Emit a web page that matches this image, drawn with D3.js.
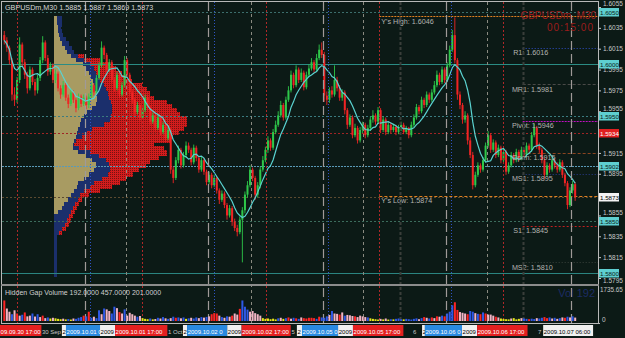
<!DOCTYPE html>
<html>
<head>
<meta charset="utf-8">
<script src="https://cdn.jsdelivr.net/npm/d3@7"></script>
<style>
  html, body { margin: 0; padding: 0; background: #0c1a16; }
  svg { display: block; font-family: "Liberation Sans", Arial, sans-serif; }
</style>
</head>
<body>
<div id="chart"></div>
<script>
// GBPUSDm M30 bars, 2009.09.30 -> 2009.10.07
const opens = [
  1.6028,1.6023,1.6016,1.6004,1.5971,1.5966,1.5985,1.6019,1.6002,1.5990,
  1.5977,1.5995,1.5983,1.5975,1.5987,1.6004,1.6021,1.6006,1.5993,1.5999,
  1.5985,1.5991,1.5977,1.5971,1.5980,1.5968,1.5962,1.5973,1.5966,1.5958,
  1.5969,1.5962,1.5968,1.5961,1.5969,1.5980,1.5973,1.5987,1.5999,1.6016,
  1.6009,1.5995,1.6002,1.5985,1.5977,1.5990,1.5971,1.5980,1.6004,1.5990,
  1.5973,1.5966,1.5954,1.5961,1.5949,1.5956,1.5968,1.5958,1.5945,1.5951,
  1.5939,1.5949,1.5935,1.5942,1.5929,1.5937,1.5899,1.5891,1.5908,1.5918,
  1.5903,1.5913,1.5922,1.5918,1.5906,1.5920,1.5910,1.5899,1.5908,1.5897,
  1.5887,1.5894,1.5884,1.5891,1.5879,1.5870,1.5876,1.5865,1.5855,1.5862,
  1.5849,1.5843,1.5839,1.5851,1.5860,1.5875,1.5884,1.5899,1.5891,1.5875,
  1.5884,1.5899,1.5908,1.5918,1.5927,1.5920,1.5935,1.5942,1.5951,1.5961,
  1.5949,1.5966,1.5975,1.5990,1.5980,1.5995,1.5985,1.5992,1.5978,1.5990,
  1.5996,1.6002,1.5995,1.6006,1.6014,1.6009,1.5970,1.5966,1.5975,1.5971,
  1.5985,1.5977,1.5968,1.5973,1.5956,1.5942,1.5949,1.5932,1.5939,1.5927,
  1.5937,1.5942,1.5932,1.5939,1.5947,1.5951,1.5945,1.5956,1.5937,1.5947,
  1.5935,1.5942,1.5937,1.5940,1.5935,1.5939,1.5942,1.5935,1.5939,1.5932,
  1.5942,1.5949,1.5959,1.5955,1.5966,1.5961,1.5971,1.5966,1.5973,1.5980,
  1.5990,1.5983,1.5995,1.5985,1.5999,1.6014,1.6028,1.6004,1.5971,1.5961,
  1.5947,1.5951,1.5927,1.5913,1.5884,1.5894,1.5903,1.5899,1.5908,1.5922,
  1.5932,1.5918,1.5925,1.5913,1.5920,1.5908,1.5916,1.5897,1.5903,1.5913,
  1.5908,1.5916,1.5910,1.5918,1.5913,1.5922,1.5918,1.5932,1.5939,1.5922,
  1.5918,1.5908,1.5894,1.5903,1.5899,1.5908,1.5903,1.5899,1.5906,1.5894,
  1.5886,1.5865,1.5879,1.5885
];
const highs = [
  1.6032,1.6026,1.6018,1.6006,1.5978,1.5988,1.6026,1.6021,1.6005,1.5993,
  1.5998,1.5997,1.5986,1.5990,1.6007,1.6027,1.6023,1.6009,1.6002,1.6001,
  1.5995,1.5993,1.5980,1.5984,1.5982,1.5971,1.5976,1.5975,1.5968,1.5972,
  1.5971,1.5971,1.5970,1.5972,1.5983,1.5982,1.5990,1.6002,1.6022,1.6018,
  1.6011,1.6005,1.6004,1.5988,1.5993,1.5992,1.5983,1.6008,1.6006,1.5992,
  1.5976,1.5968,1.5964,1.5963,1.5959,1.5971,1.5970,1.5960,1.5954,1.5953,
  1.5952,1.5951,1.5945,1.5944,1.5940,1.5939,1.5902,1.5911,1.5922,1.5920,
  1.5916,1.5926,1.5925,1.5920,1.5923,1.5922,1.5912,1.5911,1.5910,1.5899,
  1.5897,1.5896,1.5894,1.5893,1.5881,1.5879,1.5878,1.5867,1.5865,1.5864,
  1.5852,1.5846,1.5854,1.5863,1.5878,1.5888,1.5903,1.5901,1.5893,1.5887,
  1.5902,1.5912,1.5921,1.5931,1.5929,1.5938,1.5946,1.5955,1.5965,1.5963,
  1.5969,1.5979,1.5994,1.5992,1.5999,1.5997,1.5996,1.5994,1.5993,1.6000,
  1.6006,1.6004,1.6010,1.6019,1.6021,1.6012,1.5974,1.5978,1.5979,1.5999,
  1.5988,1.5980,1.5976,1.5975,1.5958,1.5952,1.5951,1.5943,1.5941,1.5940,
  1.5945,1.5944,1.5942,1.5950,1.5956,1.5953,1.5959,1.5958,1.5950,1.5949,
  1.5945,1.5944,1.5943,1.5942,1.5942,1.5945,1.5944,1.5941,1.5940,1.5945,
  1.5952,1.5962,1.5961,1.5969,1.5968,1.5974,1.5973,1.5976,1.5984,1.5994,
  1.5992,1.5998,1.5997,1.6002,1.6018,1.6033,1.6045,1.6006,1.5974,1.5963,
  1.5955,1.5953,1.5930,1.5916,1.5897,1.5906,1.5905,1.5911,1.5925,1.5936,
  1.5934,1.5928,1.5927,1.5923,1.5922,1.5919,1.5918,1.5906,1.5916,1.5915,
  1.5919,1.5918,1.5921,1.5920,1.5925,1.5924,1.5935,1.5943,1.5941,1.5925,
  1.5920,1.5910,1.5906,1.5905,1.5911,1.5910,1.5906,1.5909,1.5908,1.5896,
  1.5888,1.5882,1.5888,1.5887
];
const lows = [
  1.6019,1.6012,1.6000,1.5965,1.5960,1.5963,1.5982,1.5998,1.5986,1.5972,
  1.5975,1.5980,1.5970,1.5972,1.5984,1.6001,1.6003,1.5989,1.5990,1.5982,
  1.5982,1.5974,1.5967,1.5969,1.5965,1.5958,1.5960,1.5963,1.5954,1.5956,
  1.5959,1.5960,1.5957,1.5958,1.5967,1.5970,1.5971,1.5985,1.5997,1.6005,
  1.5992,1.5993,1.5982,1.5974,1.5975,1.5968,1.5969,1.5978,1.5987,1.5970,
  1.5962,1.5951,1.5952,1.5946,1.5947,1.5954,1.5955,1.5942,1.5943,1.5936,
  1.5937,1.5932,1.5933,1.5926,1.5927,1.5895,1.5886,1.5889,1.5905,1.5900,
  1.5901,1.5910,1.5915,1.5903,1.5904,1.5907,1.5896,1.5897,1.5894,1.5884,
  1.5885,1.5881,1.5882,1.5876,1.5866,1.5868,1.5862,1.5851,1.5853,1.5845,
  1.5840,1.5835,1.5837,1.5810,1.5857,1.5872,1.5882,1.5888,1.5870,1.5872,
  1.5881,1.5897,1.5906,1.5915,1.5917,1.5918,1.5933,1.5940,1.5949,1.5946,
  1.5947,1.5964,1.5973,1.5977,1.5978,1.5982,1.5983,1.5975,1.5976,1.5988,
  1.5994,1.5992,1.5993,1.6004,1.6006,1.5964,1.5961,1.5963,1.5968,1.5969,
  1.5974,1.5965,1.5965,1.5952,1.5938,1.5940,1.5929,1.5930,1.5924,1.5925,
  1.5934,1.5929,1.5930,1.5936,1.5944,1.5942,1.5943,1.5934,1.5935,1.5932,
  1.5933,1.5934,1.5935,1.5932,1.5933,1.5936,1.5933,1.5933,1.5929,1.5930,
  1.5940,1.5947,1.5952,1.5953,1.5958,1.5959,1.5963,1.5964,1.5971,1.5978,
  1.5980,1.5981,1.5982,1.5983,1.5997,1.6012,1.6001,1.5966,1.5957,1.5943,
  1.5944,1.5923,1.5910,1.5880,1.5882,1.5892,1.5896,1.5897,1.5906,1.5920,
  1.5915,1.5916,1.5910,1.5911,1.5905,1.5906,1.5894,1.5895,1.5901,1.5905,
  1.5906,1.5907,1.5908,1.5910,1.5911,1.5915,1.5916,1.5930,1.5919,1.5915,
  1.5905,1.5890,1.5892,1.5896,1.5897,1.5900,1.5896,1.5897,1.5891,1.5883,
  1.5861,1.5863,1.5876,1.5869
];
const closes = [
  1.6023,1.6016,1.6004,1.5971,1.5966,1.5985,1.6019,1.6002,1.5990,1.5977,
  1.5995,1.5983,1.5975,1.5987,1.6004,1.6021,1.6006,1.5993,1.5999,1.5985,
  1.5991,1.5977,1.5971,1.5980,1.5968,1.5962,1.5973,1.5966,1.5958,1.5969,
  1.5962,1.5968,1.5961,1.5969,1.5980,1.5973,1.5987,1.5999,1.6016,1.6009,
  1.5995,1.6002,1.5985,1.5977,1.5990,1.5971,1.5980,1.6004,1.5990,1.5973,
  1.5966,1.5954,1.5961,1.5949,1.5956,1.5968,1.5958,1.5945,1.5951,1.5939,
  1.5949,1.5935,1.5942,1.5929,1.5937,1.5899,1.5891,1.5908,1.5918,1.5903,
  1.5913,1.5922,1.5918,1.5906,1.5920,1.5910,1.5899,1.5908,1.5897,1.5887,
  1.5894,1.5884,1.5891,1.5879,1.5870,1.5876,1.5865,1.5855,1.5862,1.5849,
  1.5843,1.5839,1.5851,1.5860,1.5875,1.5884,1.5899,1.5891,1.5875,1.5884,
  1.5899,1.5908,1.5918,1.5927,1.5920,1.5935,1.5942,1.5951,1.5961,1.5949,
  1.5966,1.5975,1.5990,1.5980,1.5995,1.5985,1.5992,1.5978,1.5990,1.5996,
  1.6002,1.5995,1.6006,1.6014,1.6009,1.5970,1.5966,1.5975,1.5971,1.5985,
  1.5977,1.5968,1.5973,1.5956,1.5942,1.5949,1.5932,1.5939,1.5927,1.5937,
  1.5942,1.5932,1.5939,1.5947,1.5951,1.5945,1.5956,1.5937,1.5947,1.5935,
  1.5942,1.5937,1.5940,1.5935,1.5939,1.5942,1.5935,1.5939,1.5932,1.5942,
  1.5949,1.5959,1.5955,1.5966,1.5961,1.5971,1.5966,1.5973,1.5980,1.5990,
  1.5983,1.5995,1.5985,1.5999,1.6014,1.6028,1.6004,1.5971,1.5961,1.5947,
  1.5951,1.5927,1.5913,1.5884,1.5894,1.5903,1.5899,1.5908,1.5922,1.5932,
  1.5918,1.5925,1.5913,1.5920,1.5908,1.5916,1.5897,1.5903,1.5913,1.5908,
  1.5916,1.5910,1.5918,1.5913,1.5922,1.5918,1.5932,1.5939,1.5922,1.5918,
  1.5908,1.5894,1.5903,1.5899,1.5908,1.5903,1.5899,1.5906,1.5894,1.5886,
  1.5865,1.5879,1.5885,1.5873
];

// hidden gap volume pane
const volumes = [
  1150,700,520,380,600,420,300,350,480,260,
  300,420,250,380,220,300,160,200,140,180,
  150,120,100,130,90,110,80,140,120,180,
  220,300,260,520,180,240,160,600,380,700,
  650,560,420,800,720,500,420,650,300,460,
  380,300,240,280,160,120,100,140,90,110,
  180,140,220,150,120,160,240,180,200,150,
  200,120,150,180,140,200,160,220,190,230,
  260,380,440,420,300,220,180,260,240,300,
  420,360,680,1150,800,640,520,560,440,380,
  300,160,120,140,100,130,90,150,180,120,
  160,200,130,180,150,120,200,160,140,180,
  180,160,120,240,200,180,260,340,560,420,
  400,360,480,300,340,320,280,260,220,300,
  260,220,200,150,120,100,80,120,90,140,
  80,100,90,120,140,100,90,120,100,80,
  120,150,100,160,220,180,140,200,160,260,
  240,300,260,420,520,880,1050,620,500,460,
  420,380,560,520,440,400,380,480,420,360,
  360,300,240,200,140,120,100,90,140,160,
  90,120,160,140,120,100,130,110,160,140,
  180,220,160,200,140,180,120,160,200,180,
  240,200,260,192
];
const volKinds = ("rppbprpbrp" + "pbpbprpbyp" + "yyypybypbb" + "brbrbpbbpb" + "ppbbprpbpp" +
  "ppbpyyybyp" + "bpbpbpbrbp" + "bybpbbpbpb" + "prrrpbpbpr" + "pprbbbpppp" +
  "pyyyyyybpy" + "brpbrbprrr" + "rrbrbbbpbp" + "prpbppprpp" + "ppbyyyypyp" +
  "ybybbbybbb" + "bbpbrpbrpr" + "pbrbbbrrpp" + "prbbpbrbrp" + "pprpyyyypy" +
  "yypbbrbbpb" + "brrbpbpbpr" + "bpbp").split("");
const volMax = 1735.65;

// market profile on the left, one row per 4 pips
const profilePrices = [
  1.6044,1.6040,1.6036,1.6032,1.6028,1.6024,1.6020,1.6016,1.6012,1.6008,
  1.6004,1.6000,1.5996,1.5992,1.5988,1.5984,1.5980,1.5976,1.5972,1.5968,
  1.5964,1.5960,1.5956,1.5952,1.5948,1.5944,1.5940,1.5936,1.5932,1.5928,
  1.5924,1.5920,1.5916,1.5912,1.5908,1.5904,1.5900,1.5896,1.5892,1.5888,
  1.5884,1.5880,1.5876,1.5872,1.5868,1.5864,1.5860,1.5856,1.5852,1.5848,
  1.5844,1.5840,1.5836,1.5832,1.5828,1.5824,1.5820,1.5816,1.5812,1.5808,
  1.5804,1.5800
];
const profileTotal = [
  8,8,7,8,9,12,15,18,20,24, 30,36,40,42,44,46,50,52,54,55,
  57,58,58,57,56,50,38,33,28,22, 20,25,36,45,52,55,56,54,48,40,
  36,30,26,24,21,19,17,15,13,11, 8,5,3,3,3,3,3,3,3,3, 3,3
];
const profileBuy = [
  3,3,4,4,5,6,8,11,13,17, 22,29,32,35,37,39,40,40,42,43,
  42,38,33,30,27,26,24,23,22,20, 19,19,24,32,38,42,40,35,30,24,
  23,20,17,14,10,8,4,0,0,0, 0,0,0,0,0,0,0,0,0,0, 0,0
];
const profileSell = [
  0,0,0,0,0,0,0,0,0,30, 46,56,62,68,72,78,88,93,96,100,
  113,118,123,126,133,133,130,125,119,117, 100,110,113,105,96,92,85,79,72,66,
  58,46,35,28,25,23,21,19,17,15, 12,8,0,0,0,0,0,0,0,0, 0,0
];

// price axis
const priceTicks = [1.6055,1.6035,1.6015,1.5995,1.5975,1.5955,1.5935,1.5915,1.5895,1.5875,1.5855,1.5835,1.5815,1.5795];
const boxPrices = [1.6050,1.6000,1.5950,1.5934,1.5902,1.5873,1.5850,1.5800];
const boxKinds  = ["line","line","line","alert","line","bid","line","line"];

// pivot levels
const pivotNames  = ["Y's High","R1","MR1","Pivot","Open","MS1","Y's Low","S1","MS2"];
const pivotValues = [1.6046,1.6016,1.5981,1.5946,1.5915,1.5895,1.5874,1.5845,1.5810];

// vertical markers, as bar positions
const dayStarts   = [32, 80, 125, 173, 222];
const sessionBlue = [34, 82.4, 127, 175];
const sessionGray = [48, 96.9, 140.6, 189];
const sessionRed  = [5.5, 54.3, 102.7, 146.9, 195.3];
const pivotMarks  = [155, 203];

// time row: plain labels and the visible part of each session tag
const timeTexts = [["30 Sep", 15.2], ["1 Oct", 64.5], ["5", 112.7], ["6", 160.2], ["7", 209]];
const dateTags = [
  ["09.09.30 17:00", -1.2, 15.0, "r"],
  ["2", 23, 24.6, "w"], ["2009.10.01 0", 24.6, 37.9, "b"], ["2009", 37.9, 43.75, "w"], ["2009.10.01 17:00", 43.75, 64.2, "r"],
  ["2", 70.3, 71.9, "w"], ["2009.10.02 0", 71.9, 87.6, "b"], ["2009", 87.6, 93.2, "w"], ["2009.10.02 17:00", 93.2, 112.4, "r"],
  ["2", 114.8, 116.8, "w"], ["2009.10.05 0", 116.8, 130.9, "b"], ["2009", 130.9, 136.7, "w"], ["2009.10.05 17:00", 136.7, 156.4, "r"],
  ["2", 163.7, 164.8, "w"], ["2009.10.06 0", 164.8, 179.3, "b"], ["2009", 179.3, 185.2, "w"], ["2009.10.06 17:00", 185.2, 204.9, "r"],
  ["2009.10.07 06:00", 211, 230.5, "w"]
];

const W = 625, H = 338;
const pane = {left: 2, right: 598, top: 2, bottom: 284};
const vpane = {top: 287, bottom: 323};
const bg = "#0c1a16";

let svg = d3.select("#chart").append("svg")
  .attr("width", W).attr("height", H)
  .style("background", bg);

let defs = svg.append("defs");
let redPat = defs.append("pattern").attr("id", "redp").attr("width", 2).attr("height", 2).attr("patternUnits", "userSpaceOnUse");
redPat.append("rect").attr("width", 2).attr("height", 2).attr("fill", "#d21c1c");
redPat.append("rect").attr("width", 1).attr("height", 1).attr("fill", "#741212");
defs.append("clipPath").attr("id", "clipMain").append("rect")
  .attr("x", pane.left).attr("y", pane.top).attr("width", pane.right - pane.left).attr("height", pane.bottom - pane.top);

let x = d3.scaleLinear().domain([0, closes.length]).range([3, 3 + closes.length * 2.56]);
let y = d3.scaleLinear().domain([1.6055, 1.5795]).range([7, 278]);
let vy = d3.scaleLinear().domain([0, volMax]).range([321, 290]);
let px = d3.scaleLinear().domain([0, 140]).range([54, 194]);

let main = svg.append("g").attr("clip-path", "url(#clipMain)");

// profile
let rowH = y(1.5800) - y(1.5804);
function drawProfile(vals, fill) {
  main.append("g").selectAll("rect").data(profilePrices)
    .enter().append("rect")
      .attr("x", px(0))
      .attr("y", function(d) { return Math.round(y(d) - rowH / 2); })
      .attr("width", function(d, i) { return Math.round(px(vals[i]) - px(0)); })
      .attr("height", Math.ceil(rowH) + 1)
      .attr("fill", fill)
      .attr("shape-rendering", "crispEdges");
}
drawProfile(profileSell, "url(#redp)");
drawProfile(profileTotal, "#1b2f6c");
drawProfile(profileBuy, "#a89b62");

// vertical markers
function vlines(list, color, dash, width, g) {
  g.append("g").selectAll("line").data(list).enter().append("line")
    .attr("x1", function(d) { return Math.round(x(d)) + 0.5; })
    .attr("x2", function(d) { return Math.round(x(d)) + 0.5; })
    .attr("y1", pane.top).attr("y2", vpane.bottom)
    .attr("stroke", color).attr("stroke-width", width)
    .attr("stroke-dasharray", dash);
}
let vg = svg.append("g");
vlines(sessionRed, "#b02828", "2,2", 1, vg);
vlines(sessionGray, "#8a8a80", "3,3", 1, vg);
vlines(dayStarts, "#a09a98", "9,4", 1.2, vg);
vlines(sessionBlue, "#2f55c8", "1,2", 1, vg);
vlines(pivotMarks, "#3a3e3a", "3,2", 2, vg);

// full width price lines
let lineStyle = {
  "1.6050": ["#3c6e6c", "2,2"],
  "1.6000": ["#2b8c84", ""],
  "1.5950": ["#3b7c80", "2,2"],
  "1.5934": ["#a02424", "2,2"],
  "1.5902": ["#5a9ab8", "2,1"],
  "1.5873": ["#5c4a30", "2,2"],
  "1.5850": ["#3c6c5c", "2,2"],
  "1.5800": ["#2b8480", ""]
};
main.append("g").selectAll("line").data(boxPrices).enter().append("line")
  .attr("x1", pane.left).attr("x2", pane.right)
  .attr("y1", function(d) { return Math.round(y(d)) + 0.5; })
  .attr("y2", function(d) { return Math.round(y(d)) + 0.5; })
  .attr("stroke", function(d) { return lineStyle[d.toFixed(4)][0]; })
  .attr("stroke-dasharray", function(d) { return lineStyle[d.toFixed(4)][1]; })
  .attr("stroke-width", 1);

// pivot lines
let pivotStyle = [
  ["#e08020", "2,1", 147], ["#3050c8", "1,2", 203], ["#4a4a48", "3,2", 203],
  ["#c010c0", "2,1", 203], ["#8a4420", "3,2", 203], ["#2a3c90", "1,2", 203],
  ["#e08020", "3,2", 147], ["#c02020", "2,2", 203], ["#3a423c", "1,2", 203]
];
let pg = main.append("g");
pivotValues.forEach(function(v, i) {
  let s = pivotStyle[i];
  pg.append("line")
    .attr("x1", x(s[2])).attr("x2", pane.right)
    .attr("y1", Math.round(y(v)) + 0.5).attr("y2", Math.round(y(v)) + 0.5)
    .attr("stroke", s[0]).attr("stroke-dasharray", s[1]);
});

// candles
let bars = main.append("g");
closes.forEach(function(c, i) {
  let o = opens[i];
  let col = c >= o ? "#2ec84a" : "#f02424";
  let cx = x(i) + 1.28;
  bars.append("line")
    .attr("x1", cx).attr("x2", cx)
    .attr("y1", y(highs[i])).attr("y2", y(lows[i]))
    .attr("stroke", col).attr("stroke-width", 0.9);
  let top = y(Math.max(o, c)), bot = y(Math.min(o, c));
  bars.append("rect")
    .attr("x", x(i) + 0.3).attr("width", 2)
    .attr("y", top).attr("height", Math.max(1, bot - top))
    .attr("fill", col);
});

// moving average
let ma = closes.map(function(c, i) { return d3.mean(closes.slice(Math.max(0, i - 7), i + 1)); });
main.append("path")
  .datum(ma)
  .attr("fill", "none")
  .attr("stroke", "#5ad2d0")
  .attr("stroke-width", 1.2)
  .attr("d", d3.line().x(function(d, i) { return x(i) + 1.28; }).y(function(d) { return y(d); }));

// pivot labels
let labelX = [147, 198.5, 198, 198, 198, 198, 147, 198.5, 198];
main.append("g").selectAll("text").data(pivotValues).enter().append("text")
  .attr("x", function(d, i) { return x(labelX[i]) + 2; })
  .attr("y", function(d) { return y(d) + 7.5; })
  .attr("fill", "#b4b4b0").attr("font-size", 7.2)
  .text(function(d, i) { return pivotNames[i] + ": " + d.toFixed(4); });

// header texts
svg.append("text").attr("x", 5).attr("y", 10).attr("fill", "#d8d8d8").attr("font-size", 7.2)
  .text("GBPUSDm,M30  1.5885  1.5887  1.5869  1.5873");
svg.append("text").attr("x", 596).attr("y", 19).attr("text-anchor", "end").attr("fill", "#9c1c1c").attr("font-size", 10)
  .text("GBPUSDm, M30");
svg.append("text").attr("x", 594).attr("y", 31).attr("text-anchor", "end").attr("fill", "#9c1c1c").attr("font-size", 10)
  .attr("letter-spacing", 1).text("00:15:00");

// price axis; labels that would run into a price box move up above it
let axisG = svg.append("g").attr("transform", "translate(" + pane.right + ",0)")
  .call(d3.axisRight(y).tickValues(priceTicks.filter(function(t) {
    return !boxPrices.some(function(b) { return Math.abs(y(b) - y(t)) < 4; });
  })).tickFormat(d3.format(".4f")).tickSize(3).tickPadding(2));
axisG.select(".domain").remove();
axisG.selectAll("line").attr("stroke", "#c8c8c8");
axisG.selectAll("text").attr("fill", "#c8c8c8").attr("font-size", 6.5).attr("font-family", "Liberation Sans, Arial");
axisG.selectAll(".tick text").attr("y", function(d) {
  let shift = 0;
  boxPrices.forEach(function(b) {
    let gap = y(b) - y(d);
    if (gap >= 4 && gap < 8.5) shift = Math.min(shift, gap - 8.5);
  });
  return shift;
});
// the bottom label sits half under the pane border
axisG.selectAll(".tick").filter(function(d) { return d === 1.5795; }).select("text").attr("dy", "0.62em");

let boxColor = {line: ["#5ecfd0", "#0c1a16"], alert: ["#e02020", "#ffffff"], bid: ["#f4f4f4", "#000000"]};
let boxG = svg.append("g");
boxPrices.forEach(function(p, i) {
  let c = boxColor[boxKinds[i]];
  boxG.append("rect").attr("x", pane.right + 1).attr("y", Math.round(y(p)) - 4)
    .attr("width", 20).attr("height", 8.5).attr("fill", c[0]);
  boxG.append("text").attr("x", pane.right + 2).attr("y", Math.round(y(p)) + 2.6)
    .attr("fill", c[1]).attr("font-size", 6.2).text(p.toFixed(4));
});

// volume pane
let volG = svg.append("g");
let volColor = {r: "#ff2424", p: "#f2b4c4", b: "#2e58e6", y: "#e6e61c", w: "#e8e8e8"};
volG.selectAll("rect").data(volumes).enter().append("rect")
  .attr("x", function(d, i) { return x(i) + 0.3; })
  .attr("width", 2)
  .attr("y", function(d) { return vy(d); })
  .attr("height", function(d) { return vy(0) - vy(d); })
  .attr("fill", function(d, i) { return volColor[volKinds[i]]; });
svg.append("text").attr("x", 595).attr("y", 297).attr("text-anchor", "end")
  .attr("fill", "#1c2c64").attr("font-size", 11).text("Vol  192");
svg.append("text").attr("x", 5).attr("y", 295).attr("fill", "#d0d0d0").attr("font-size", 7)
  .text("Hidden Gap Volume 192.0000 457.0000 201.0000");
svg.append("text").attr("x", 600).attr("y", 292).attr("fill", "#c8c8c8").attr("font-size", 6.3).text(volMax.toFixed(2));
svg.append("text").attr("x", 602).attr("y", 322).attr("fill", "#c8c8c8").attr("font-size", 6.5).text("0");

// frame
let frame = svg.append("g").attr("fill", "none").attr("stroke", "#b8b8b8");
frame.append("line").attr("x1", 1.5).attr("x2", 1.5).attr("y1", 1).attr("y2", 324);
frame.append("line").attr("x1", 1).attr("x2", pane.right).attr("y1", 1.5).attr("y2", 1.5);
frame.append("line").attr("x1", pane.right + 0.5).attr("x2", pane.right + 0.5).attr("y1", 1).attr("y2", 324);
frame.append("rect").attr("x", 1).attr("y", pane.bottom).attr("width", pane.right).attr("height", 2)
  .attr("fill", "#8c8c8c").attr("stroke", "none");
frame.append("line").attr("x1", 1).attr("x2", pane.right + 2).attr("y1", vpane.bottom + 0.5).attr("y2", vpane.bottom + 0.5);
// cover the part of the last price label that falls under the pane border
svg.append("rect").attr("x", pane.right + 1).attr("y", pane.bottom).attr("width", W - pane.right).attr("height", 3).attr("fill", bg);

// time row
let tg = svg.append("g").attr("font-size", 6);
timeTexts.forEach(function(t) {
  tg.append("text").attr("x", x(t[1])).attr("y", 333.5).attr("fill", "#c8c8c8").text(t[0]);
});
let tagColor = {r: ["#e42020", "#ffffff"], b: ["#2a8ae0", "#ffffff"], w: ["#f0f0f0", "#000000"]};
dateTags.forEach(function(t) {
  let c = tagColor[t[3]];
  let x0 = Math.max(0, x(t[1]));
  tg.append("rect").attr("x", x0).attr("y", 325).attr("width", x(t[2]) - x0).attr("height", 11).attr("fill", c[0]);
  tg.append("text").attr("x", x0 + 0.6).attr("y", 333.5).attr("fill", c[1]).text(t[0]);
});
</script>
</body>
</html>
